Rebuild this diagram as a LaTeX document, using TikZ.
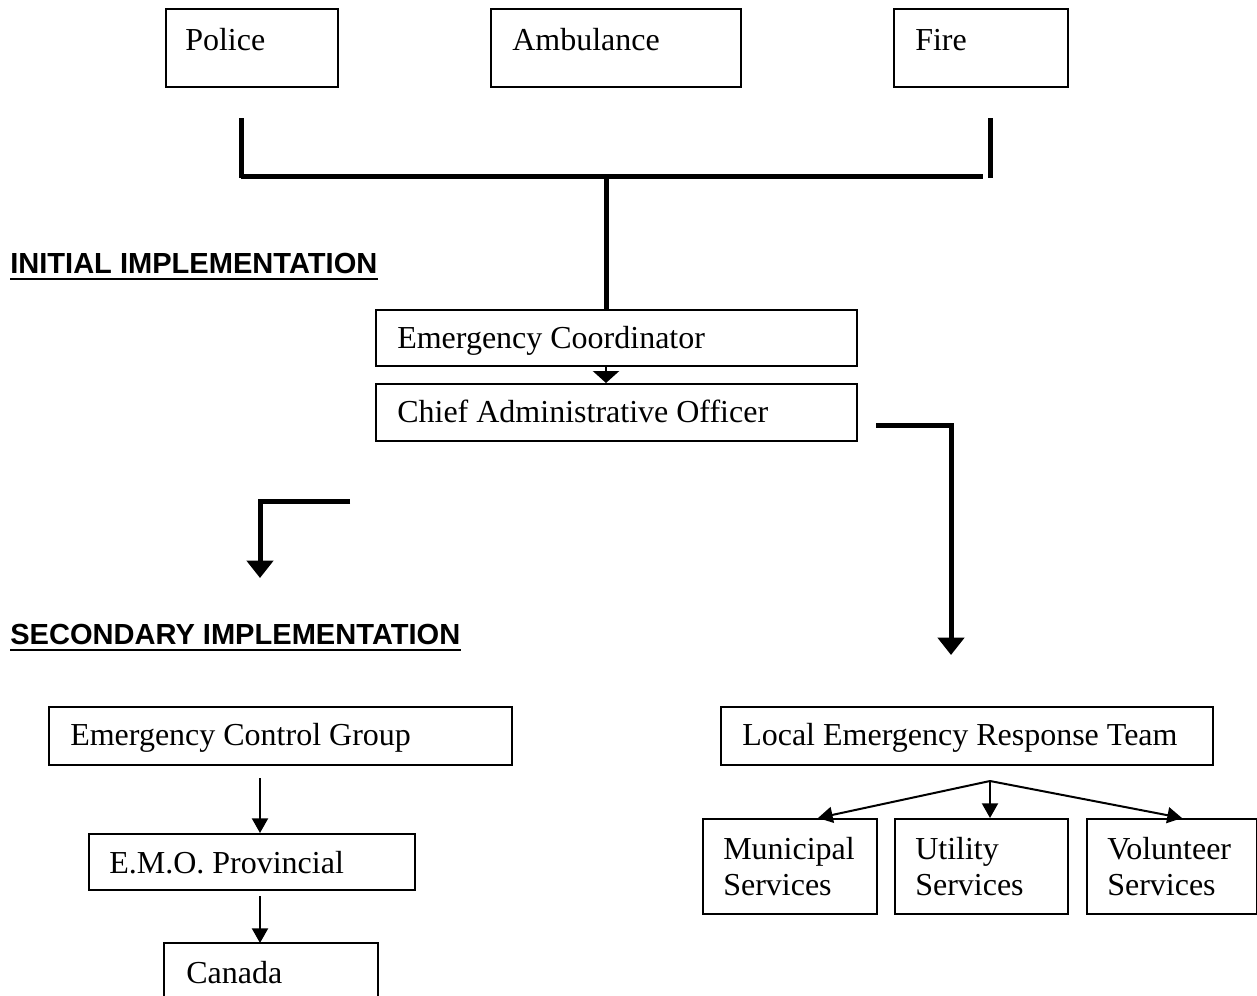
\documentclass[tikz,border=0pt]{standalone}
\usepackage{fontspec}
\setmainfont{Liberation Serif}
\newfontfamily\headfont{Liberation Sans}
\usetikzlibrary{arrows.meta,calc}
\tikzset{
  bx/.style 2 args={draw, line width=1.5pt, inner sep=0pt, anchor=north west,
    minimum width=#1*0.75pt, minimum height=#2*0.75pt},
  txt/.style={inner sep=0pt, anchor=base west, font=\fontsize{24}{28}\selectfont},
  head/.style={inner sep=0pt, anchor=base west, font=\headfont\bfseries\fontsize{21.8}{25}\selectfont},
  thickline/.style={line width=3.75pt},
  thickarrow/.style={line width=3.75pt, -{Triangle[width=19.5pt,length=13pt]}},
  thinarrow/.style={line width=1.5pt, -{Triangle[width=12pt,length=11pt]}},
  uline/.style={line width=2.2pt}
}
\begin{document}
\begin{tikzpicture}[x=0.75pt,y=-0.75pt]
\useasboundingbox (0,0) rectangle (1257,996);
% top boxes
\node[bx={172}{78}] (police) at (165,8) {};
\node[bx={250}{78}] (amb) at (490,8) {};
\node[bx={174}{78}] (fire) at (893,8) {};
\node[txt] (policet) at (185,50) {Police};
\node[txt] (ambt) at (512,50) {Ambulance};
\node[txt] (firet) at (915,50) {Fire};
% bracket
\coordinate (bl) at (241,118);
\coordinate (blb) at (241,178);
\coordinate (hl) at (241,176);
\coordinate (hr) at (983,176);
\coordinate (br) at (990,118);
\coordinate (brb) at (990,178);
\coordinate (hc) at (606,176);
\draw[thickline] (bl) -- (blb);
\draw[thickline] (hl) -- (hr);
\draw[thickline] (br) -- (brb);
% headings
\node[head] (h1) at (10,273) {INITIAL IMPLEMENTATION};
\draw[uline] ($(h1.base west)+(0,6)$) -- ($(h1.base east)+(0,6)$);
\node[head] (h2) at (10,644) {SECONDARY IMPLEMENTATION};
\draw[uline] ($(h2.base west)+(0,6)$) -- ($(h2.base east)+(0,6)$);
% middle boxes
\node[bx={481}{56}] (ec) at (375,309) {};
\node[bx={481}{57}] (cao) at (375,383) {};
\node[txt] (ect) at (397,348) {Emergency Coordinator};
\node[txt] (caot) at (397,422) {Chief Administrative Officer};
\draw[thickline] (hc) -- (hc |- ec.north);
\draw[line width=2pt, -{Triangle[width=19.5pt,length=9pt]}] (ec.south -| hc) -- (cao.north -| hc);
% right connector
\coordinate (rs) at (876,425);
\coordinate (rc) at (951,425);
\node[bx={492}{58}] (lert) at (720,706) {};
\node[txt] (lertt) at (742,745) {Local Emergency Response Team};
\coordinate (re) at (951,655);
\draw[thickarrow] (rs) -- (rc) -- (re);
% left connector
\coordinate (ls) at (350,501);
\coordinate (lc) at (260,501);
\coordinate (le) at (260,578);
\draw[thickarrow] (ls) -- (lc) -- (le);
% left column
\node[bx={463}{58}] (ecg) at (48,706) {};
\node[txt] (ecgt) at (70,745) {Emergency Control Group};
\node[bx={326}{56}] (emo) at (88,833) {};
\node[txt] (emot) at (109,873) {E.M.O. Provincial};
\node[bx={212}{53}, draw=none] (can) at (164,943) {};
\draw[line width=1.5pt] (can.south west) -- (can.north west) -- (can.north east) -- (can.south east);
\node[txt] (cant) at (186,983) {Canada};
\coordinate (a1) at (260,778);
\draw[thinarrow] (a1) -- (a1 |- emo.north);
\coordinate (a2) at (260,896);
\draw[thinarrow] (a2) -- (a2 |- can.north);
% services
\node[bx={174}{95}] (mun) at (702,818) {};
\node[bx={173}{95}] (uti) at (894,818) {};
\node[bx={170}{95}] (vol) at (1086,818) {};
\node[txt] (mun1) at (723,859) {Municipal};
\node[txt] (mun2) at (723,895) {Services};
\node[txt] (uti1) at (915,859) {Utility};
\node[txt] (uti2) at (915,895) {Services};
\node[txt] (vol1) at (1107,859) {Volunteer};
\node[txt] (vol2) at (1107,895) {Services};
\coordinate (j) at (990,781);
\draw[thinarrow] (j) -- (818,818);
\draw[thinarrow] (j) -- (j |- uti.north);
\draw[thinarrow] (j) -- (1182,818);
\end{tikzpicture}
\end{document}
